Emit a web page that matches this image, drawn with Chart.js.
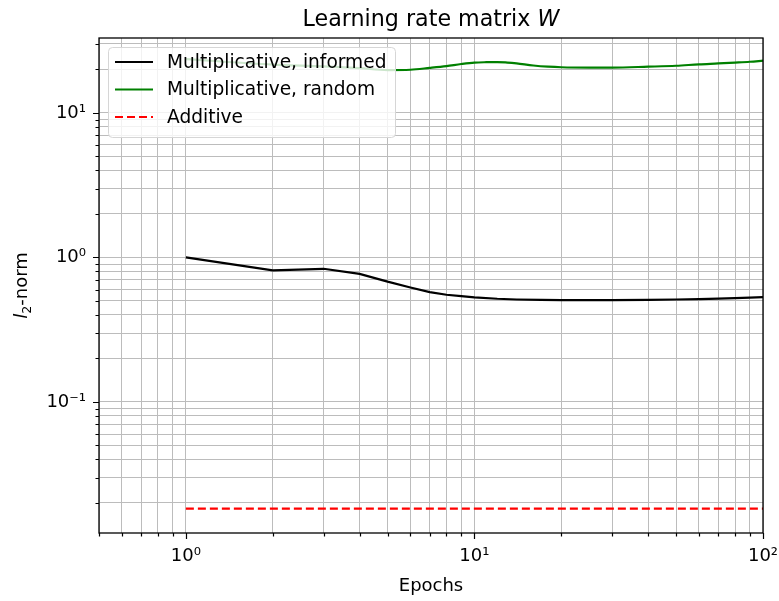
<!DOCTYPE html>
<html>
<head>
<meta charset="utf-8">
<script src="https://cdn.jsdelivr.net/npm/chart.js@4.4.0/dist/chart.umd.min.js"></script>
<style>
    html, body { margin: 0; padding: 0; background: #fff; }
    #wrap { width: 779px; height: 601px; }
</style>
</head>
<body>
<div id="wrap"><canvas id="lrChart" width="779" height="601"></canvas></div>
<script>
// values
const informedEpochs = [1, 2, 3, 4, 5, 6, 7, 8, 9, 10, 12, 14, 17, 20, 25, 30, 40, 50, 60, 70, 80, 90, 100];
const informedNorm = [1.0, 0.813, 0.835, 0.77, 0.68, 0.62, 0.575, 0.552, 0.54, 0.53, 0.518, 0.512, 0.508, 0.506, 0.506, 0.507, 0.509, 0.512, 0.515, 0.519, 0.523, 0.527, 0.531];

const randomEpochs = [1, 2, 3, 4, 5, 6, 7, 8, 9, 10, 11, 12, 13, 14, 16, 18, 20, 25, 30, 40, 50, 60, 70, 80, 90, 100];
const randomNorm = [23.6, 21.6, 21.0, 20.4, 19.8, 19.9, 20.5, 21.1, 21.8, 22.3, 22.45, 22.5, 22.3, 22.0, 21.3, 20.9, 20.7, 20.6, 20.6, 20.9, 21.2, 21.7, 22.0, 22.3, 22.6, 23.0];

const additiveEpochs = [1, 100];
const additiveNorm = [0.0183, 0.0183];

const xTicks = [0.5, 0.6, 0.7, 0.8, 0.9, 1, 2, 3, 4, 5, 6, 7, 8, 9, 10, 20, 30, 40, 50, 60, 70, 80, 90, 100];
const yTicks = [0.02, 0.03, 0.04, 0.05, 0.06, 0.07, 0.08, 0.09, 0.1, 0.2, 0.3, 0.4, 0.5, 0.6, 0.7, 0.8, 0.9, 1, 2, 3, 4, 5, 6, 7, 8, 9, 10, 20, 30];
const xMajor = [1, 10, 100];
const xMajorLabels = ['10\u2070', '10\u00b9', '10\u00b2'];
const yMajor = [0.1, 1, 10];
const yMajorLabels = ['10\u207b\u00b9', '10\u2070', '10\u00b9'];

const FONT = '"DejaVu Sans", sans-serif';
const pts = (xs, ys) => xs.map((x, i) => ({ x: x, y: ys[i] }));
const near = (list, v) => list.findIndex(m => Math.abs(m - v) / m < 1e-6);

const decor = {
    id: 'decor',
    afterDraw(chart) {
        const ctx = chart.ctx;
        const a = chart.chartArea;
        const sx = chart.scales.x, sy = chart.scales.y;
        ctx.save();

        // tick marks, major longer than minor
        ctx.strokeStyle = '#000';
        ctx.lineWidth = 1.2;
        ctx.beginPath();
        sx.ticks.forEach(t => {
            const px = Math.round(sx.getPixelForValue(t.value)) + 0.5;
            const len = near(xMajor, t.value) >= 0 ? 6 : 3.5;
            ctx.moveTo(px, a.bottom);
            ctx.lineTo(px, a.bottom + len);
        });
        sy.ticks.forEach(t => {
            const py = Math.round(sy.getPixelForValue(t.value)) + 0.5;
            const len = near(yMajor, t.value) >= 0 ? 6 : 3.5;
            ctx.moveTo(a.left, py);
            ctx.lineTo(a.left - len, py);
        });
        ctx.stroke();

        // frame
        ctx.lineWidth = 1.3;
        ctx.strokeRect(a.left, a.top, a.right - a.left, a.bottom - a.top);

        // legend
        const lx = 108, ly = 47, lw = 287, lh = 90;
        ctx.beginPath();
        ctx.roundRect(lx + 0.5, ly + 0.5, lw, lh, 4);
        ctx.fillStyle = 'rgba(255,255,255,0.8)';
        ctx.fill();
        ctx.strokeStyle = '#d6d6d6';
        ctx.lineWidth = 1;
        ctx.stroke();
        ctx.font = '18.6px ' + FONT;
        ctx.textBaseline = 'middle';
        ctx.textAlign = 'left';
        chart.data.datasets.forEach((ds, i) => {
            const yy = 62 + i * 27.5;
            ctx.strokeStyle = ds.borderColor;
            ctx.lineWidth = ds.borderWidth;
            ctx.setLineDash(ds.borderDash || []);
            ctx.beginPath();
            ctx.moveTo(115, yy);
            ctx.lineTo(153, yy);
            ctx.stroke();
            ctx.setLineDash([]);
            ctx.fillStyle = '#000';
            ctx.fillText(ds.label, 167, yy + 1);
        });

        // title with italic W
        ctx.textBaseline = 'alphabetic';
        ctx.fillStyle = '#000';
        const tA = 'Learning rate matrix ', tB = 'W';
        ctx.font = '22.2px ' + FONT;
        const wA = ctx.measureText(tA).width;
        ctx.font = 'italic 22.2px ' + FONT;
        const wB = ctx.measureText(tB).width;
        const tx = (a.left + a.right) / 2 - (wA + wB) / 2;
        ctx.font = '22.2px ' + FONT;
        ctx.fillText(tA, tx, 26);
        ctx.font = 'italic 22.2px ' + FONT;
        ctx.fillText(tB, tx + wA, 26);

        // x label
        ctx.font = '18px ' + FONT;
        ctx.textAlign = 'center';
        ctx.fillText('Epochs', (a.left + a.right) / 2, 591);

        // y label: italic l, subscript 2, -norm
        ctx.translate(27, (a.top + a.bottom) / 2);
        ctx.rotate(-Math.PI / 2);
        ctx.textAlign = 'left';
        ctx.font = 'italic 18px ' + FONT;
        const w1 = ctx.measureText('l').width;
        ctx.font = '12.6px ' + FONT;
        const w2 = ctx.measureText('2').width;
        ctx.font = '18px ' + FONT;
        const w3 = ctx.measureText('-norm').width;
        const s = -(w1 + w2 + w3) / 2;
        ctx.font = 'italic 18px ' + FONT;
        ctx.fillText('l', s, 0);
        ctx.font = '12.6px ' + FONT;
        ctx.fillText('2', s + w1, 4);
        ctx.font = '18px ' + FONT;
        ctx.fillText('-norm', s + w1 + w2, 0);

        ctx.restore();
    }
};

const ctx = document.getElementById('lrChart').getContext('2d');
new Chart(ctx, {
    type: 'line',
    data: {
        datasets: [{
            label: 'Multiplicative, informed',
            data: pts(informedEpochs, informedNorm),
            borderColor: '#000000',
            borderWidth: 2.2,
            pointRadius: 0,
            tension: 0
        }, {
            label: 'Multiplicative, random',
            data: pts(randomEpochs, randomNorm),
            borderColor: '#008000',
            borderWidth: 2.2,
            pointRadius: 0,
            cubicInterpolationMode: 'monotone'
        }, {
            label: 'Additive',
            data: pts(additiveEpochs, additiveNorm),
            borderColor: '#ff0000',
            borderWidth: 2.2,
            borderDash: [8, 4],
            pointRadius: 0,
            tension: 0
        }]
    },
    options: {
        responsive: false,
        animation: false,
        devicePixelRatio: 1,
        layout: { padding: { left: 0, right: 16, top: 38, bottom: 0 } },
        plugins: {
            legend: { display: false },
            title: { display: false },
            tooltip: { enabled: false }
        },
        scales: {
            x: {
                type: 'logarithmic',
                min: 0.5,
                max: 100,
                afterBuildTicks: axis => { axis.ticks = xTicks.map(v => ({ value: v })); },
                afterFit: axis => { axis.height = 68; axis.paddingLeft = 0; axis.paddingRight = 0; },
                grid: { color: '#bcbcbc', lineWidth: 1, drawTicks: false },
                border: { display: false },
                ticks: {
                    autoSkip: false,
                    maxRotation: 0,
                    padding: 13,
                    color: '#000',
                    font: { family: FONT, size: 18 },
                    callback: v => { const k = near(xMajor, v); return k >= 0 ? xMajorLabels[k] : ''; }
                }
            },
            y: {
                type: 'logarithmic',
                min: 0.0124,
                max: 33,
                afterBuildTicks: axis => { axis.ticks = yTicks.map(v => ({ value: v })); },
                afterFit: axis => { axis.width = 99; axis.paddingTop = 0; axis.paddingBottom = 0; },
                grid: { color: '#bcbcbc', lineWidth: 1, drawTicks: false },
                border: { display: false },
                ticks: {
                    autoSkip: false,
                    padding: 13,
                    color: '#000',
                    font: { family: FONT, size: 18 },
                    callback: v => { const k = near(yMajor, v); return k >= 0 ? yMajorLabels[k] : ''; }
                }
            }
        }
    },
    plugins: [decor]
});
</script>
</body>
</html>
